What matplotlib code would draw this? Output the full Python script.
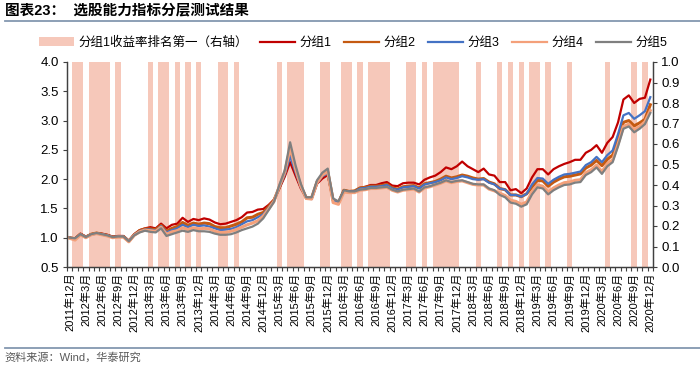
import matplotlib
matplotlib.use('Agg')
import matplotlib.pyplot as plt
import numpy as np
from matplotlib.lines import Line2D
from matplotlib.patches import Patch

plt.rcParams['font.family'] = ['Liberation Sans', 'Noto Sans CJK SC', 'DejaVu Sans']

# ---------------- data (monthly, 2011-12 .. 2020-12) ----------------
tick_labels = ["2011年12月", "2012年3月", "2012年6月", "2012年9月", "2012年12月",
               "2013年3月", "2013年6月", "2013年9月", "2013年12月",
               "2014年3月", "2014年6月", "2014年9月", "2014年12月",
               "2015年3月", "2015年6月", "2015年9月", "2015年12月",
               "2016年3月", "2016年6月", "2016年9月", "2016年12月",
               "2017年3月", "2017年6月", "2017年9月", "2017年12月",
               "2018年3月", "2018年6月", "2018年9月", "2018年12月",
               "2019年3月", "2019年6月", "2019年9月", "2019年12月",
               "2020年3月", "2020年6月", "2020年9月", "2020年12月"]

# 1 = group 1 ranked first that month (right axis)
shade = [0,
         1, 1, 0, 1, 1, 1, 1, 0, 1, 0, 0, 0,
         0, 0, 1, 0, 1, 1, 0, 1, 0, 1, 0, 1,
         0, 0, 0, 1, 1, 0, 1, 0, 0, 0, 0, 0,
         0, 0, 1, 0, 1, 1, 1, 0, 0, 0, 1, 1,
         0, 0, 1, 1, 0, 1, 0, 1, 1, 1, 1, 0,
         0, 0, 1, 1, 0, 1, 0, 1, 1, 1, 1, 1,
         0, 0, 0, 1, 0, 0, 0, 1, 0, 1, 0, 1,
         0, 1, 1, 0, 1, 0, 0, 0, 1, 0, 0, 0,
         0, 0, 0, 1, 0, 0, 0, 0, 1, 0, 1, 0]

g1 = [1.00, 0.99, 1.07, 1.02, 1.06, 1.08, 1.07, 1.05, 1.02, 1.03, 1.03, 0.95, 1.06,
      1.13, 1.16, 1.18, 1.16, 1.24, 1.16, 1.22, 1.24, 1.34, 1.27, 1.32, 1.30, 1.33,
      1.31, 1.26, 1.23, 1.24, 1.27, 1.30, 1.35, 1.43, 1.44, 1.48, 1.49, 1.56, 1.65,
      1.84, 2.04, 2.29, 2.06, 1.84, 1.68, 1.67, 1.92, 2.01, 2.07, 1.64, 1.60, 1.81, 1.79, 1.79,
      1.85, 1.87, 1.90, 1.90, 1.93, 1.95, 1.89, 1.88, 1.93, 1.94, 1.94, 1.91, 1.99,
      2.03, 2.06, 2.12, 2.20, 2.17, 2.22, 2.30, 2.22, 2.17, 2.12, 2.18, 2.08, 2.06,
      1.95, 1.95, 1.81, 1.83, 1.76, 1.84, 2.03, 2.17, 2.17, 2.08, 2.17, 2.22, 2.26,
      2.29, 2.33, 2.33, 2.45, 2.50, 2.58, 2.45, 2.62, 2.72, 2.97, 3.36, 3.43, 3.30,
      3.37, 3.39, 3.70]

g2 = [1.00, 0.98, 1.06, 1.01, 1.06, 1.08, 1.06, 1.04, 1.01, 1.02, 1.02, 0.94, 1.05,
      1.12, 1.15, 1.15, 1.14, 1.21, 1.11, 1.16, 1.19, 1.26, 1.21, 1.25, 1.23, 1.25,
      1.24, 1.19, 1.17, 1.17, 1.20, 1.23, 1.27, 1.34, 1.35, 1.40, 1.43, 1.53, 1.64,
      1.86, 2.10, 2.45, 2.15, 1.88, 1.68, 1.68, 1.95, 2.06, 2.12, 1.64, 1.60, 1.81, 1.79, 1.80,
      1.85, 1.86, 1.88, 1.88, 1.89, 1.91, 1.85, 1.83, 1.87, 1.88, 1.89, 1.85, 1.92,
      1.94, 1.96, 2.00, 2.05, 2.02, 2.04, 2.07, 2.05, 2.02, 2.00, 2.01, 1.95, 1.92,
      1.84, 1.82, 1.73, 1.73, 1.70, 1.75, 1.87, 1.98, 1.97, 1.88, 1.95, 2.00, 2.04,
      2.05, 2.07, 2.09, 2.19, 2.24, 2.32, 2.23, 2.34, 2.41, 2.67, 2.97, 3.00, 2.91,
      2.96, 3.02, 3.27]

g3 = [1.00, 0.98, 1.06, 1.01, 1.05, 1.07, 1.06, 1.04, 1.01, 1.02, 1.02, 0.94, 1.05,
      1.11, 1.14, 1.14, 1.12, 1.20, 1.09, 1.13, 1.16, 1.22, 1.18, 1.22, 1.20, 1.21,
      1.19, 1.16, 1.13, 1.14, 1.15, 1.18, 1.23, 1.28, 1.30, 1.35, 1.40, 1.51, 1.63,
      1.86, 2.08, 2.39, 2.12, 1.86, 1.67, 1.66, 1.93, 2.05, 2.10, 1.63, 1.60, 1.80, 1.79, 1.79,
      1.84, 1.85, 1.87, 1.87, 1.88, 1.90, 1.84, 1.82, 1.86, 1.87, 1.88, 1.84, 1.91,
      1.93, 1.95, 1.98, 2.03, 2.00, 2.02, 2.05, 2.03, 2.00, 1.99, 2.00, 1.94, 1.91,
      1.84, 1.82, 1.73, 1.73, 1.70, 1.75, 1.91, 2.02, 2.01, 1.92, 1.99, 2.04, 2.08,
      2.09, 2.11, 2.13, 2.24, 2.29, 2.38, 2.29, 2.41, 2.49, 2.77, 3.09, 3.13, 3.03,
      3.09, 3.16, 3.40]

g4 = [0.99, 0.96, 1.05, 1.00, 1.05, 1.07, 1.05, 1.03, 1.00, 1.01, 1.01, 0.93, 1.04,
      1.10, 1.13, 1.12, 1.11, 1.18, 1.06, 1.10, 1.12, 1.17, 1.14, 1.17, 1.15, 1.16,
      1.15, 1.11, 1.09, 1.09, 1.11, 1.14, 1.18, 1.22, 1.25, 1.29, 1.37, 1.49, 1.62,
      1.88, 2.12, 2.53, 2.18, 1.88, 1.67, 1.66, 1.94, 2.07, 2.13, 1.60, 1.57, 1.78, 1.77, 1.77,
      1.81, 1.82, 1.84, 1.84, 1.85, 1.86, 1.81, 1.78, 1.81, 1.82, 1.83, 1.78, 1.85,
      1.87, 1.90, 1.93, 1.97, 1.94, 1.96, 1.97, 1.94, 1.91, 1.90, 1.90, 1.83, 1.80,
      1.76, 1.72, 1.64, 1.62, 1.57, 1.61, 1.78, 1.90, 1.88, 1.78, 1.85, 1.90, 1.94,
      1.95, 1.98, 1.99, 2.11, 2.16, 2.24, 2.13, 2.26, 2.33, 2.60, 2.90, 2.94, 2.84,
      2.90, 2.98, 3.17]

g5 = [1.00, 0.99, 1.06, 1.01, 1.06, 1.08, 1.06, 1.04, 1.01, 1.02, 1.02, 0.94, 1.04,
      1.09, 1.12, 1.10, 1.09, 1.16, 1.03, 1.06, 1.09, 1.12, 1.10, 1.13, 1.11, 1.11,
      1.10, 1.07, 1.05, 1.05, 1.06, 1.09, 1.13, 1.16, 1.19, 1.24, 1.33, 1.47, 1.61,
      1.90, 2.15, 2.63, 2.24, 1.92, 1.69, 1.69, 1.98, 2.11, 2.18, 1.67, 1.62, 1.81, 1.79, 1.79,
      1.82, 1.83, 1.85, 1.85, 1.86, 1.87, 1.82, 1.79, 1.82, 1.83, 1.84, 1.79, 1.86,
      1.88, 1.91, 1.94, 1.98, 1.95, 1.97, 1.98, 1.95, 1.92, 1.91, 1.91, 1.84, 1.81,
      1.73, 1.69, 1.60, 1.58, 1.53, 1.57, 1.74, 1.86, 1.84, 1.74, 1.81, 1.86, 1.90,
      1.91, 1.94, 1.95, 2.07, 2.12, 2.20, 2.09, 2.22, 2.29, 2.56, 2.86, 2.90, 2.80,
      2.86, 2.94, 3.13]

series_names = ["分组1", "分组2", "分组3", "分组4", "分组5"]
bar_name = "分组1收益率排名第一（右轴）"
title = "图表23：  选股能力指标分层测试结果"
source = "资料来源：Wind，华泰研究"

# ---------------- styling ----------------
colors = ['#C00000', '#C55A11', '#4472C4', '#F4A07A', '#7F7F7F']
widths = [1.6, 2.2, 1.6, 2.2, 1.6]
bar_color = '#F6C8BA'
axis_color = '#404040'

fig = plt.figure(figsize=(7, 3.68), dpi=100)
ax = fig.add_axes([67 / 700, 1 - 267 / 368, 586 / 700, 205 / 368])
ax2 = ax.twinx()

n = len(g1)
x = np.arange(n)

ax2.bar(x, shade, width=1.0, color=bar_color, linewidth=0)
ax2.set_ylim(0, 1.0)
ax2.set_yticks(np.arange(0, 1.01, 0.1))
ax2.set_yticklabels([f"{v:.1f}" for v in np.arange(0, 1.01, 0.1)])

ax.set_zorder(ax2.get_zorder() + 1)
ax.patch.set_visible(False)

handles = [Patch(facecolor=bar_color, edgecolor='none')]
for s, c, w in zip([g1, g2, g3, g4, g5], colors, widths):
    ln, = ax.plot(x, s, color=c, lw=w, solid_joinstyle='round')
    handles.append(Line2D([], [], color=c, lw=1.6))

ax.set_ylim(0.5, 4.0)
ax.set_yticks(np.arange(0.5, 4.01, 0.5))
ax.set_yticklabels([f"{v:.1f}" for v in np.arange(0.5, 4.01, 0.5)])
ax.set_xlim(-0.5, n - 0.5)

ax.set_xticks(np.arange(0, n, 3))
ax.set_xticklabels(tick_labels, rotation=90, fontsize=8)
ax.set_xticks(np.arange(-0.5, n, 1), minor=True)
ax.tick_params(axis='x', which='major', length=0, pad=4, colors='black')
ax.tick_params(axis='x', which='minor', length=3, width=0.8, color=axis_color)
ax.tick_params(axis='y', which='major', length=3, width=0.8, color=axis_color,
               labelsize=9.5, pad=3)
ax2.tick_params(axis='y', which='major', length=3, width=0.8, color=axis_color,
                labelsize=9.5, pad=3)

for a in (ax, ax2):
    a.spines['top'].set_visible(False)
    for sp in ('left', 'right', 'bottom'):
        a.spines[sp].set_color(axis_color)
        a.spines[sp].set_linewidth(0.9)

fig.legend(handles, [bar_name] + series_names, loc='center',
           bbox_to_anchor=(353 / 700, 1 - 43 / 368), ncol=6, frameon=False,
           fontsize=9, handlelength=2.8, handletextpad=0.35, columnspacing=1.0)

fig.text(0.007, 1 - 10 / 368, title, fontsize=10.5, fontweight='bold', va='center', ha='left')
fig.add_artist(Line2D([0.007, 1.0], [1 - 21 / 368, 1 - 21 / 368], color='#8497B0', lw=1.3))
fig.add_artist(Line2D([0.007, 1.0], [1 - 347.5 / 368, 1 - 347.5 / 368], color='#8497B0', lw=1.3))
fig.text(0.007, 1 - 357 / 368, source, fontsize=8, color='#595959', va='center', ha='left')

fig.savefig('out.png', dpi=100)
